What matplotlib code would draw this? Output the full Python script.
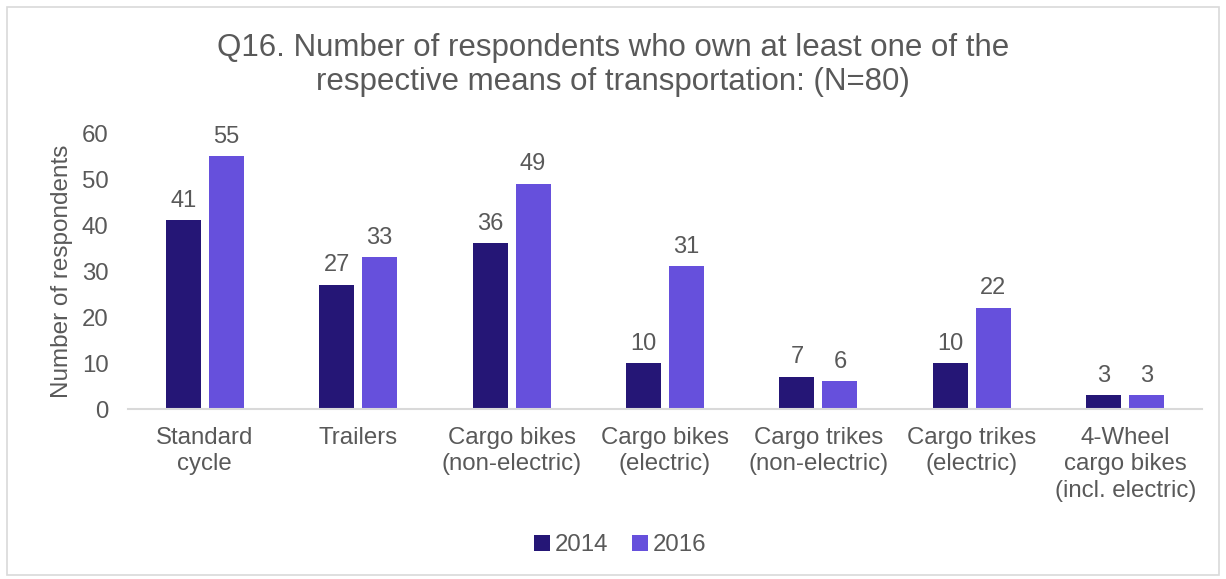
import matplotlib.pyplot as plt
import numpy as np
from matplotlib.patches import Rectangle

categories = ["Standard\ncycle", "Trailers", "Cargo bikes\n(non-electric)",
              "Cargo bikes\n(electric)", "Cargo trikes\n(non-electric)",
              "Cargo trikes\n(electric)", "4-Wheel\ncargo bikes\n(incl. electric)"]
values_2014 = [41, 27, 36, 10, 7, 10, 3]
values_2016 = [55, 33, 49, 31, 6, 22, 3]
series_names = ["2014", "2016"]

c_dark = "#251676"
c_light = "#6650DC"
c_text = "#595959"

plt.rcParams["font.family"] = ["Liberation Sans", "DejaVu Sans"]

fig = plt.figure(figsize=(12.26, 5.79), dpi=100)
ax = fig.add_axes([128 / 1226, 1 - 409 / 579, (1202 - 128) / 1226, (409 - 133) / 579])

x = np.arange(len(categories))
w = 0.228
off = 0.14
b1 = ax.bar(x - off, values_2014, w, color=c_dark, label=series_names[0])
b2 = ax.bar(x + off, values_2016, w, color=c_light, label=series_names[1])
for bars in (b1, b2):
    ax.bar_label(bars, padding=6, fontsize=17, color=c_text)

ax.set_xlim(-0.5, len(categories) - 0.5)
ax.set_ylim(0, 60)
ax.set_yticks(range(0, 61, 10))
ax.set_xticks(x)
ax.set_xticklabels(categories, fontsize=17.3, color=c_text, linespacing=1.25)
ax.tick_params(axis="y", labelsize=17.3, labelcolor=c_text, length=0, pad=14)
ax.tick_params(axis="x", length=0, pad=13)
for s in ("top", "right", "left"):
    ax.spines[s].set_visible(False)
ax.spines["bottom"].set_color("#d9d9d9")
ax.spines["bottom"].set_linewidth(1.5)
ax.set_ylabel("Number of respondents", fontsize=17.5, color=c_text, labelpad=6)

fig.suptitle("Q16. Number of respondents who own at least one of the\nrespective means of transportation: (N=80)",
             y=1 - 33 / 579, va="top", fontsize=22.5, color=c_text, linespacing=1.18)

fig.legend(handles=[b1, b2], loc="center", bbox_to_anchor=(620 / 1226, 1 - 545 / 579),
           ncol=2, frameon=False, fontsize=17.3, labelcolor=c_text,
           handlelength=0.65, handleheight=0.65, handletextpad=0.2, columnspacing=1.0)

fig.patches.append(Rectangle((7 / 1226, 4 / 579), 1212 / 1226, 568 / 579, transform=fig.transFigure,
                             fill=False, edgecolor="#d9d9d9", linewidth=1.2))

fig.savefig("out.png", dpi=100)
